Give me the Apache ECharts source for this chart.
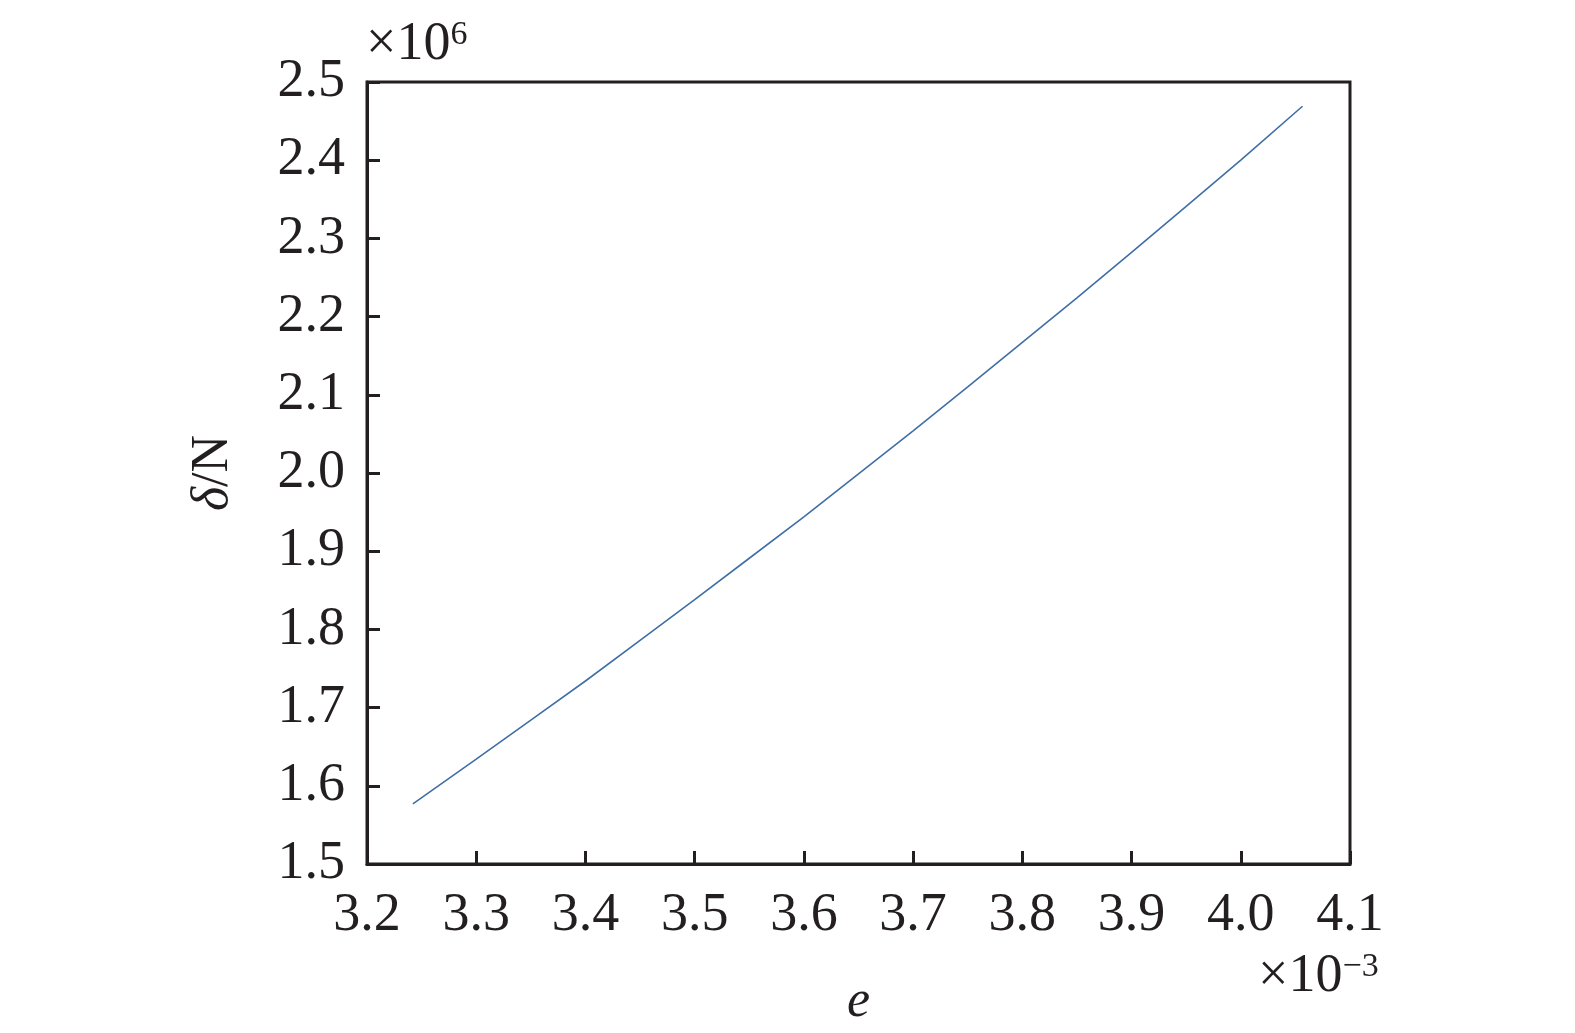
<!DOCTYPE html>
<html>
<head>
<meta charset="utf-8">
<script src="https://cdn.jsdelivr.net/npm/echarts@6/dist/echarts.min.js"></script>
<style>html,body{margin:0;padding:0;background:#fff}#c{width:1575px;height:1033px}</style>
</head>
<body>
<div id="c"></div>
<script>
// e (×10^-3)
const eValues = [3.242, 3.30, 3.35, 3.40, 3.45, 3.50, 3.55, 3.60, 3.65, 3.70, 3.75, 3.80, 3.85, 3.90, 3.95, 4.00, 4.0565];
// δ/N (×10^6)
const deltaValues = [1.577, 1.634, 1.684, 1.734, 1.786, 1.838, 1.891, 1.944, 1.999, 2.054, 2.110, 2.167, 2.224, 2.282, 2.341, 2.400, 2.469];
const xAxisName = 'e';
const yAxisName = ['δ', '/N'];
const xMultiplier = ['×10', '−3'];
const yMultiplier = ['×10', '6'];

const FONT = '"Liberation Serif", "Times New Roman", serif';
const chart = echarts.init(document.getElementById('c'));
chart.setOption({
  backgroundColor: '#fff',
  animation: false,
  grid: { left: 367, top: 82, right: 225, bottom: 166, show: true, borderColor: '#231f20', borderWidth: 3, backgroundColor: 'transparent' },
  xAxis: {
    type: 'value', min: 3.2, max: 4.1, interval: 0.1,
    axisLine: { show: true, lineStyle: { color: '#231f20', width: 3 } },
    axisTick: { show: true, inside: true, length: 13, lineStyle: { color: '#231f20', width: 3 } },
    splitLine: { show: false },
    axisLabel: { color: '#231f20', fontFamily: FONT, fontSize: 54, margin: 25, formatter: v => v.toFixed(1) },
    name: xAxisName, nameLocation: 'middle', nameGap: 112,
    nameTextStyle: { color: '#231f20', fontFamily: FONT, fontSize: 52, fontStyle: 'italic' }
  },
  yAxis: {
    type: 'value', min: 1.5, max: 2.5, interval: 0.1,
    axisLine: { show: true, lineStyle: { color: '#231f20', width: 3 } },
    axisTick: { show: true, inside: true, length: 13, lineStyle: { color: '#231f20', width: 3 } },
    splitLine: { show: false },
    axisLabel: { color: '#231f20', fontFamily: FONT, fontSize: 54, margin: 22, formatter: v => v.toFixed(1) },
    name: '{i|' + yAxisName[0] + '}{n|' + yAxisName[1] + '}', nameLocation: 'middle', nameGap: 128, nameRotate: 90,
    nameTextStyle: { color: '#231f20', fontFamily: FONT, fontSize: 52,
      rich: { i: { fontFamily: FONT, fontSize: 52, fontStyle: 'italic', color: '#231f20' },
              n: { fontFamily: FONT, fontSize: 52, color: '#231f20' } } }
  },
  series: [{
    type: 'line', showSymbol: false, smooth: false,
    data: eValues.map((x, i) => [x, deltaValues[i]]),
    lineStyle: { color: '#3f6fa6', width: 1.6 }
  }],
  graphic: [
    { type: 'text', left: 366, top: 18, style: { rich: {
        a: { fontFamily: FONT, fontSize: 54, fill: '#231f20' },
        b: { fontFamily: FONT, fontSize: 34, fill: '#231f20', verticalAlign: 'top', padding: [0,0,20,0] } },
      text: '{a|' + yMultiplier[0] + '}{b|' + yMultiplier[1] + '}' } },
    { type: 'text', left: 1258, top: 950, style: { rich: {
        a: { fontFamily: FONT, fontSize: 54, fill: '#231f20' },
        b: { fontFamily: FONT, fontSize: 34, fill: '#231f20', verticalAlign: 'top', padding: [0,0,20,0] } },
      text: '{a|' + xMultiplier[0] + '}{b|' + xMultiplier[1] + '}' } }
  ]
});
</script>
</body>
</html>
